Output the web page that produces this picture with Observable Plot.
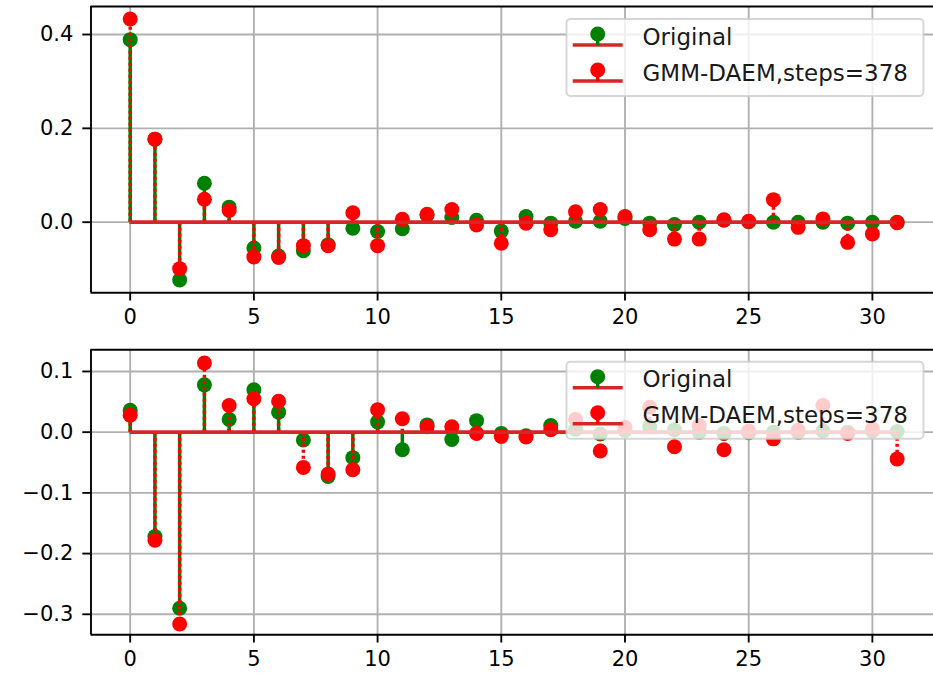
<!DOCTYPE html>
<html>
<head>
<meta charset="utf-8">
<script src="https://cdn.jsdelivr.net/npm/d3@7"></script>
<script src="https://cdn.jsdelivr.net/npm/@observablehq/plot@0.6"></script>
<style>
  html, body { margin: 0; padding: 0; background: #fff; overflow: hidden; }
  #chart svg { display: block; }
</style>
</head>
<body>
<div id="chart"></div>
<script>
// Autocorrelation coefficients by lag, original signal vs. GMM-DAEM estimate
const lags = d3.range(32);

const originalTop = [0.389, 0.177, -0.123, 0.083, 0.032, -0.055, -0.072, -0.061, -0.048, -0.013,
  -0.020, -0.014, 0.015, 0.010, 0.004, -0.019, 0.012, -0.002, 0.002, 0.002,
  0.008, -0.002, -0.005, 0.000, 0.004, 0.001, 0.000, 0.000, 0.000, -0.002, 0.000, 0.000];
const daemTop = [0.433, 0.177, -0.099, 0.049, 0.025, -0.074, -0.075, -0.050, -0.050, 0.020,
  -0.050, 0.006, 0.017, 0.027, -0.006, -0.045, -0.002, -0.016, 0.022, 0.027,
  0.012, -0.016, -0.036, -0.036, 0.005, 0.002, 0.048, -0.011, 0.007, -0.043, -0.025, -0.001];

const originalBottom = [0.036, -0.172, -0.290, 0.078, 0.021, 0.070, 0.033, -0.013, -0.073, -0.042,
  0.017, -0.029, 0.012, -0.012, 0.019, -0.002, -0.006, 0.011, 0.005, -0.003,
  0.003, 0.009, 0.004, 0.000, -0.002, -0.001, 0.000, 0.000, 0.002, 0.000, 0.002, 0.001];
const daemBottom = [0.028, -0.178, -0.316, 0.114, 0.044, 0.055, 0.051, -0.058, -0.069, -0.062,
  0.037, 0.022, 0.009, 0.009, -0.002, -0.007, -0.008, 0.004, 0.021, -0.031,
  0.008, 0.041, -0.024, 0.011, -0.029, 0.002, -0.011, 0.003, 0.044, -0.002, 0.005, -0.044];

const xTicks = [0, 5, 10, 15, 20, 25, 30];
const yTicksTop = [0.0, 0.2, 0.4];
const yTicksBottom = [-0.3, -0.2, -0.1, 0.0, 0.1];
const seriesNames = ["Original", "GMM-DAEM,steps=378"];

const xDomain = [-1.584, 32.47];
const FONT = "DejaVu Sans";
const FONT_SIZE = 21;
const LEGEND_FONT_SIZE = 23;
const GRID = "#b0b0b0";
const GREEN = "#008000";
const RED = "#ff0000";
const BASE = "#d62728";
const LW = 1.87;   // spine / grid width
const STEM = 3.5;  // stem / baseline width
const R = 7.5;     // marker radius

function panel({orig, daem, yDomain, yTicks, height, marginTop, marginBottom}) {
  const rows = lags.map((lag, i) => ({lag, orig: orig[i], daem: daem[i]}));
  const base = [{y: 0, x1: lags[0], x2: lags[lags.length - 1]}];
  return Plot.plot({
    width: 933,
    height,
    marginLeft: 90.5,
    marginRight: 0,
    marginTop,
    marginBottom,
    style: {fontFamily: FONT, fontSize: FONT_SIZE + "px", background: "#fff", color: "#000"},
    x: {domain: xDomain},
    y: {domain: yDomain},
    marks: [
      Plot.gridX(xTicks, {stroke: GRID, strokeOpacity: 1, strokeWidth: LW}),
      Plot.gridY(yTicks, {stroke: GRID, strokeOpacity: 1, strokeWidth: LW}),
      // original: solid green stems, markers, baseline
      Plot.ruleX(rows, {x: "lag", y1: 0, y2: "orig", stroke: GREEN, strokeWidth: STEM}),
      Plot.dot(rows, {x: "lag", y: "orig", r: R, fill: GREEN}),
      Plot.ruleY(base, {y: "y", x1: "x1", x2: "x2", stroke: BASE, strokeWidth: STEM}),
      // GMM-DAEM: dotted red stems, markers, baseline
      Plot.ruleX(rows, {x: "lag", y1: 0, y2: "daem", stroke: RED, strokeWidth: STEM, strokeDasharray: "3,3"}),
      Plot.dot(rows, {x: "lag", y: "daem", r: R, fill: RED}),
      Plot.ruleY(base, {y: "y", x1: "x1", x2: "x2", stroke: BASE, strokeWidth: STEM}),
      // spines
      Plot.ruleX([xDomain[0]], {stroke: "#000", strokeWidth: LW}),
      Plot.ruleY([yDomain[0], yDomain[1]], {stroke: "#000", strokeWidth: LW}),
      Plot.axisX({ticks: xTicks, tickFormat: d => String(d), tickSize: 8.2, tickPadding: 8.5,
        strokeWidth: LW, stroke: "#000", fill: "#000", fontSize: FONT_SIZE, label: null}),
      Plot.axisY({ticks: yTicks, tickFormat: d3.format(".1f"), tickSize: 8.2, tickPadding: 9.5,
        strokeWidth: LW, stroke: "#000", fill: "#000", fontSize: FONT_SIZE, label: null})
    ]
  });
}

function addLegend(svg, boxX, boxY) {
  const g = d3.select(svg).append("g");
  g.append("rect")
    .attr("x", boxX).attr("y", boxY).attr("width", 357).attr("height", 77)
    .attr("rx", 4).attr("fill", "#fff").attr("fill-opacity", 0.8)
    .attr("stroke", "#cccccc").attr("stroke-opacity", 0.8).attr("stroke-width", 1.9);
  const colors = [GREEN, RED];
  seriesNames.forEach((name, i) => {
    const dy = i * 36;
    const hx = boxX + 31.2;
    g.append("line").attr("x1", boxX + 6.2).attr("x2", boxX + 56.2)
      .attr("y1", boxY + 26 + dy).attr("y2", boxY + 26 + dy)
      .attr("stroke", BASE).attr("stroke-width", STEM);
    g.append("line").attr("x1", hx).attr("x2", hx)
      .attr("y1", boxY + 15 + dy).attr("y2", boxY + 26 + dy)
      .attr("stroke", colors[i]).attr("stroke-width", STEM);
    g.append("circle").attr("cx", hx).attr("cy", boxY + 15 + dy).attr("r", R).attr("fill", colors[i]);
    g.append("text").attr("x", boxX + 76).attr("y", boxY + 25.5 + dy)
      .attr("text-anchor", "start")
      .attr("font-family", FONT).attr("font-size", LEGEND_FONT_SIZE).attr("fill", "#1a1a1a")
      .text(name);
  });
}

const topPanel = panel({orig: originalTop, daem: daemTop, yDomain: [-0.1505, 0.4597], yTicks: yTicksTop,
  height: 340, marginTop: 6, marginBottom: 47.7});
const bottomPanel = panel({orig: originalBottom, daem: daemBottom, yDomain: [-0.3338, 0.1357], yTicks: yTicksBottom,
  height: 335, marginTop: 9.3, marginBottom: 40.7});

addLegend(topPanel, 566.5, 19);
addLegend(bottomPanel, 566.5, 21.7);

const chart = document.getElementById("chart");
chart.appendChild(topPanel);
chart.appendChild(bottomPanel);
</script>
</body>
</html>
